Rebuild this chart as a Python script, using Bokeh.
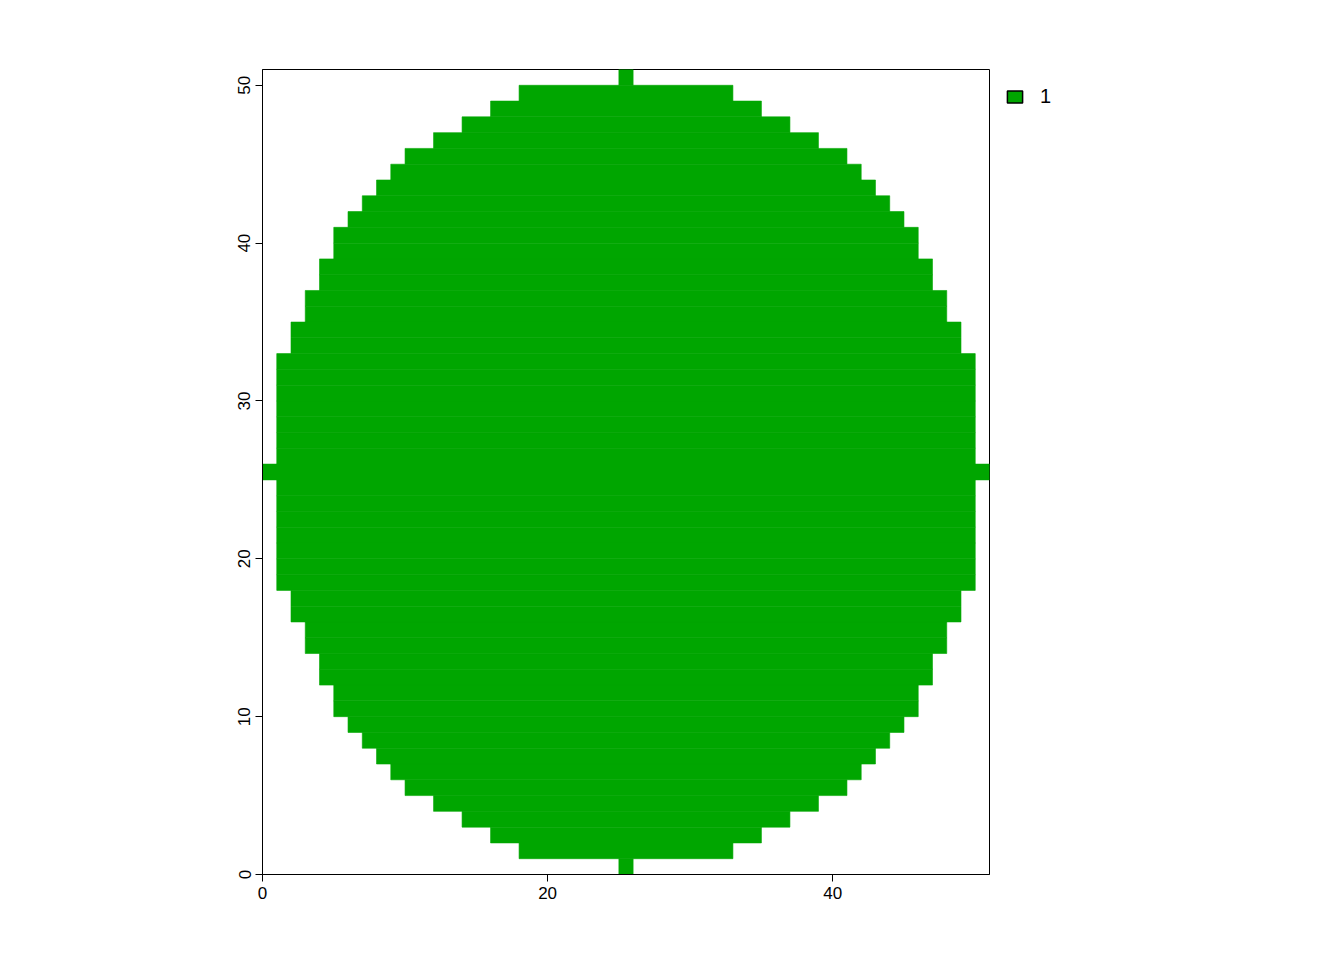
from bokeh.plotting import figure
from bokeh.models import Legend, LegendItem, FixedTicker
from bokeh.embed import file_html
from bokeh.resources import INLINE

# raster rows 0..50: first filled column and (exclusive) last column
rows = list(range(51))
row_start = [25, 18, 16, 14, 12, 10, 9, 8, 7, 6, 5, 5, 4, 4, 3, 3, 2, 2, 1, 1, 1, 1, 1, 1, 1, 0,
             1, 1, 1, 1, 1, 1, 1, 2, 2, 3, 3, 4, 4, 5, 5, 6, 7, 8, 9, 10, 12, 14, 16, 18, 25]
row_end = [51 - s for s in row_start]
legend_label = "1"
fill = "#00A600"

p = figure(frame_width=727, frame_height=805, output_backend="svg", toolbar_location=None,
           x_range=(0, 51), y_range=(0, 51),
           min_border_left=262, min_border_top=69, min_border_bottom=60, min_border_right=10)
p.xgrid.grid_line_color = None
p.ygrid.grid_line_color = None
p.outline_line_color = "black"
p.outline_line_width = 1

p.quad(left=row_start, right=row_end, bottom=rows, top=[r + 1 for r in rows],
       fill_color=fill, line_color=fill, line_width=0.6)

dummy = p.quad(left=[float("nan")], right=[float("nan")], bottom=[float("nan")], top=[float("nan")],
               fill_color=fill, line_color="black", line_width=1.5)
legend = Legend(items=[LegendItem(label=legend_label, renderers=[dummy])],
                location="top_left", border_line_color=None, background_fill_alpha=0,
                label_text_font="Liberation Sans", label_text_font_size="20px",
                label_text_color="black",
                margin=16, padding=5, glyph_width=19, glyph_height=15, label_standoff=16)
p.add_layout(legend, "right")

for ax in (p.xaxis, p.yaxis):
    ax.major_label_text_font = "Liberation Sans"
    ax.major_label_text_font_size = "17px"
    ax.major_label_text_color = "black"
    ax.axis_line_color = "black"
    ax.major_tick_line_color = "black"
    ax.major_tick_out = 7
    ax.major_tick_in = 0
    ax.minor_tick_line_color = None
p.xaxis.ticker = FixedTicker(ticks=[0, 20, 40])
p.yaxis.ticker = FixedTicker(ticks=[0, 10, 20, 30, 40, 50])
p.yaxis.major_label_orientation = "vertical"

open("out.html", "w").write(file_html(p, INLINE))
